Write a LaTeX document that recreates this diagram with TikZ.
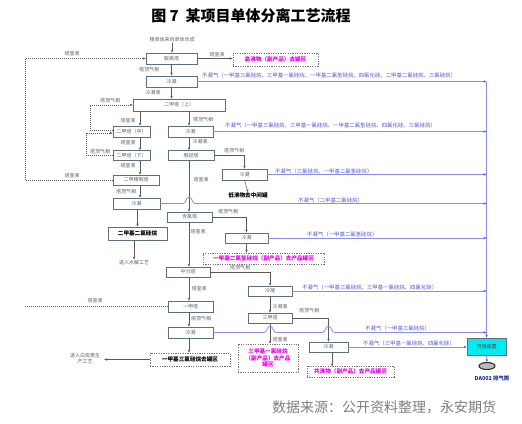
\documentclass[tikz,border=0pt]{standalone}
\usepackage{fontspec}
\setmainfont{Noto Sans CJK SC}
\usetikzlibrary{arrows.meta,shapes.geometric}
\definecolor{boxc}{RGB}{95,110,125}
\definecolor{txt}{RGB}{95,95,95}
\definecolor{blc}{RGB}{140,140,235}
\definecolor{blt}{RGB}{85,85,215}
\definecolor{mag}{RGB}{235,0,235}
\definecolor{cyanf}{RGB}{0,235,240}
\definecolor{srcg}{RGB}{125,125,125}
\definecolor{dab}{RGB}{30,40,150}
\begin{document}
\begin{tikzpicture}[x=1pt,y=-1pt,
  box/.style={draw=boxc,line width=0.7pt,fill=white,inner sep=0pt,font=\fontsize{5}{6}\selectfont,text=txt},
  lab/.style={font=\fontsize{5}{6}\selectfont,text=txt,inner sep=0pt},
  blab/.style={font=\fontsize{5.4}{6}\selectfont,text=blt,inner sep=0pt,anchor=west},
  dbox/.style={draw=gray!90!black,dash pattern=on 1.2pt off 1.2pt,line width=0.6pt,fill=white,inner sep=0pt,font=\fontsize{5.6}{6.8}\selectfont\bfseries},
  conn/.style={draw=gray!70!black,line width=0.5pt},
  arr/.style={-{Stealth[length=3pt,width=2.4pt]}},
  bline/.style={draw=blc,line width=0.8pt,-{Stealth[length=3pt,width=2.4pt,color=blt]}},
  dsh/.style={draw=gray!70!black,line width=0.5pt,dash pattern=on 1pt off 1pt},
]
\useasboundingbox (0,0) rectangle (522,423);

% title
\node[font=\fontsize{15}{16}\selectfont\bfseries,inner sep=0pt] (title) at (251,15.5) {图 7\ \ 某项目单体分离工艺流程};

% collector coordinates
\coordinate (col) at (486.5,0);
\coordinate (L) at (25,0);
\coordinate (L1) at (90,0);
\coordinate (L2) at (86,0);
\coordinate (t1) at (140,0);
\coordinate (t2) at (189,0);
\coordinate (t3) at (270,0);

% boxes
\node[lab] (src) at (172,40) {粗单体来自单体合成};
\node[box,minimum width=51pt,minimum height=11pt] (tgt) at (171.5,58.5) {脱高塔};
\node[dbox,text=mag,minimum width=85pt,minimum height=13pt] (gfw) at (275.5,59.5) {高沸物（副产品）去罐区};
\node[box,minimum width=51pt,minimum height=11pt] (lc1) at (171.5,81.5) {冷凝};
\node[box,minimum width=92pt,minimum height=12pt] (ejs) at (179,105) {二甲塔（上）};
\node[box,minimum width=37pt,minimum height=11pt] (ejz) at (131.5,131.5) {二甲塔（中）};
\node[box,minimum width=37pt,minimum height=10pt] (ejx) at (131.5,155.5) {二甲塔（下）};
\node[box,minimum width=46pt,minimum height=10pt] (ejjz) at (136,180) {二甲精制塔};
\node[box,minimum width=47pt,minimum height=11pt] (lcA) at (136.5,203.5) {冷凝};
\node[box,line width=0.9pt,text=black,font=\fontsize{5.6}{6.8}\selectfont\bfseries,minimum width=59pt,minimum height=13pt] (dm) at (137.5,233.5) {二甲基二氯硅烷};
\node[lab] (shj) at (134,263) {进入水解工艺};

\node[box,minimum width=45pt,minimum height=11pt] (lc2) at (190.5,131.5) {冷凝};
\node[box,minimum width=46pt,minimum height=10pt] (tqt) at (191,155.5) {脱轻塔};
\node[box,minimum width=45pt,minimum height=11pt] (lc3) at (244.5,174.5) {冷凝};
\node[inner sep=0pt,font=\fontsize{5.6}{6.8}\selectfont\bfseries] (dfw) at (248,195) {低沸物去中间罐};
\node[box,minimum width=45pt,minimum height=10pt] (hlt) at (189.5,217) {含氯塔};
\node[box,minimum width=43pt,minimum height=10pt] (lc4) at (246.5,238) {冷凝};
\node[dbox,text=mag,minimum width=121pt,minimum height=11pt] (m1) at (263.5,258.5) {一甲基二氯氢硅烷（副产品）去产品罐区};
\node[box,minimum width=44pt,minimum height=10pt] (zft) at (188,272) {中分塔};
\node[box,minimum width=44pt,minimum height=10pt] (lc5) at (270,291) {冷凝};
\node[box,minimum width=44pt,minimum height=10pt] (sjt) at (270,318) {三甲塔};
\node[box,minimum width=45pt,minimum height=11pt] (yjt) at (190.5,306.5) {一甲塔};
\node[box,minimum width=45pt,minimum height=11pt] (lc6) at (190.5,332.5) {冷凝};
\node[dbox,text=black,minimum width=80pt,minimum height=13pt] (mt) at (190,359.5) {一甲基三氯硅烷去罐区};
\node[lab,align=center] (bth) at (85,358.5) {进入白炭黑生\\产工艺};
\node[dbox,text=mag,align=center,minimum width=60pt,minimum height=28pt] (sj) at (268,358) {三甲基一氯硅烷\\（副产品）去产品\\罐区};
\node[box,minimum width=39pt,minimum height=10pt] (lc7) at (328.5,347) {冷凝};
\node[dbox,text=mag,minimum width=87pt,minimum height=11pt] (gf) at (350.5,371.5) {共沸物（副产品）去产品罐区};
\node[draw=boxc,line width=0.7pt,fill=cyanf,inner sep=0pt,minimum width=39pt,minimum height=17pt,font=\fontsize{5}{6}\selectfont,text=black!75] (fs) at (486.5,346.5) {焚烧装置};
\node[ellipse,draw=black!80,line width=1.1pt,fill=gray!55,minimum width=16pt,minimum height=7pt,inner sep=0pt] (pq) at (487,366) {};
\node[inner sep=0pt,text=dab,font=\fontsize{5.4}{6}\selectfont\bfseries] (da) at (492,378) {DA002 排气筒};

% gray labels
\node[lab] at (217,54.5) {塔釜液};
\node[lab] at (149,70) {塔顶气相};
\node[lab] at (153,93) {冷凝液};
\node[lab] at (110,101) {塔顶气相};
\node[lab] at (128,121) {塔釜液};
\node[lab] at (203,120) {塔顶气相};
\node[lab] at (128,143) {塔釜液};
\node[lab] at (200,142) {冷凝液};
\node[lab] at (100,152) {塔顶气相};
\node[lab] at (128,166) {塔釜液};
\node[lab] at (234,151) {塔顶气相};
\node[lab] at (201,180) {塔釜液};
\node[lab] at (72,175.5) {塔釜液};
\node[lab] at (126,191.5) {塔顶气相};
\node[lab] at (72,53.5) {塔釜液};
\node[lab] at (228,212) {塔顶气相};
\node[lab] at (198,232) {塔釜液};
\node[lab] at (240,267.5) {塔顶气相};
\node[lab] at (199,289) {塔釜液};
\node[lab] at (95,300.5) {塔釜液};
\node[lab] at (280,307) {冷凝液};
\node[lab] at (309,311) {塔顶气相};
\node[lab] at (201,319) {塔顶气相};
\node[lab] at (280,340) {塔釜液};

% blue labels
\node[blab] at (202,75) {不凝气（一甲基三氯硅烷、三甲基一氯硅烷、一甲基二氯氢硅烷、四氯化硅、二甲基二氯硅烷、三氯硅烷）};
\node[blab] at (225,125.5) {不凝气（一甲基三氯硅烷、三甲基一氯硅烷、一甲基二氯氢硅烷、四氯化硅、三氯硅烷）};
\node[blab] at (275,171) {不凝气（三氯硅烷、一甲基二氯氢硅烷）};
\node[blab] at (298,200) {不凝气（二甲基二氯硅烷）};
\node[blab] at (307,234) {不凝气（一甲基二氯氢硅烷）};
\node[blab] at (302,287) {不凝气（一甲基三氯硅烷、三甲基一氯硅烷、四氯化硅）};
\node[blab] at (365,328.5) {不凝气（一甲基三氯硅烷）};
\node[blab] at (363,343) {不凝气（三甲基一氯硅烷、四氯化硅）};

% source
\node[inner sep=0pt,text=srcg,font=\fontsize{14}{15}\selectfont] (source) at (384,407) {数据来源：公开资料整理，永安期货};

% gray connectors
\draw[conn,arr] (src.south) -- (src.south |- tgt.north);
\draw[conn,arr] (tgt.east) -- (tgt.east -| gfw.west);
\draw[conn,arr] (tgt.south) -- (lc1.north);
\draw[conn,arr] (lc1.south) -- (lc1.south |- ejs.north);
\draw[conn,arr] (ejs.south -| t1) -- (ejz.north -| t1);
\draw[conn,arr] (ejz.south -| t1) -- (ejx.north -| t1);
\draw[conn,arr] (ejx.south -| t1) -- (ejjz.north -| t1);
\draw[conn,arr] (ejjz.south -| t1) -- (lcA.north -| t1);
\draw[conn,arr] (lcA.south -| dm.north) -- (dm.north);
\draw[conn,arr] (dm.south -| shj.north) -- ([yshift=1pt]shj.north);

\draw[conn,arr] (ejs.south -| t2) -- (lc2.north -| t2);
\draw[conn,arr] (lc2.south -| t2) -- (tqt.north -| t2);
\draw[conn,arr] (tqt.south -| t2) -- (hlt.north -| t2);
\draw[conn,arr] (hlt.south -| t2) -- (zft.north -| t2);
\draw[conn,arr] (zft.south -| t2) -- (yjt.north -| t2);
\draw[conn,arr] (yjt.south -| t2) -- (lc6.north -| t2);
\draw[conn,arr] (lc6.south -| t2) -- (mt.north -| t2);
\draw[conn,arr] (mt.west) -- ([xshift=4pt]bth.east |- mt.west);

\draw[conn,arr] (tqt.east) -- (tqt.east -| lc3.north) -- (lc3.north);
\draw[conn,arr] (lc3.south) -- (dfw.north);
\draw[conn,arr] (hlt.east) -- (hlt.east -| lc4.north) -- (lc4.north);
\draw[conn,arr] (lc4.south) -- (lc4.south |- m1.north);
\draw[conn,arr] (zft.east) -- (zft.east -| lc5.north) -- (lc5.north);
\draw[conn,arr] (lc5.south) -- (sjt.north);
\draw[conn,arr] (sjt.south -| t3) -- (sj.north -| t3);
\draw[conn,arr] (sjt.east) -- (sjt.east -| lc7.north) -- (lc7.north);
\draw[conn,arr] (lc7.south -| gf.north) ++(-18.5,0) -- ++(0,14);

% dashed recycle lines
\draw[dsh,arr] (ejjz.west) -- (ejjz.west -| L) -- (tgt.west -| L) -- (tgt.west);
\draw[dsh] (yjt.west) -- (yjt.west -| L);
\draw[dsh,arr] ([yshift=1.5pt]ejz.west) -- ([yshift=1.5pt]ejz.west -| L1) -- (ejs.west -| L1) -- (ejs.west);
\draw[dsh,arr] (ejx.west) -- (ejx.west -| L2) -- ([yshift=-1.5pt]ejz.west -| L2) -- ([yshift=-1.5pt]ejz.west);

% blue vent lines
\draw[bline] (lc1.east) -- (lc1.east -| col);
\draw[bline] (lc2.east) -- (lc2.east -| col);
\draw[bline] (lc3.east) -- (lc3.east -| col);
\draw[bline] (lcA.east) -- (183,203.5) .. controls (186,203.5) and (186,197) .. (189,197) .. controls (192,197) and (192,203.5) .. (195,203.5) -- (lcA.east -| col);
\draw[bline] (lc4.east) -- (lc4.east -| col);
\draw[bline] (lc5.east) -- (lc5.east -| col);
\draw[bline] (lc6.east) -- (264,332.5) .. controls (267,332.5) and (267,326) .. (270,326) .. controls (273,326) and (273,332.5) .. (276,332.5)
  -- (322.5,332.5) .. controls (325.5,332.5) and (325.5,326) .. (328.5,326) .. controls (331.5,326) and (331.5,332.5) .. (334.5,332.5) -- (lc6.east -| col);
\draw[bline] (lc7.east) -- (lc7.east -| fs.west);
\draw[bline] (lc1.east -| col) -- (fs.north);
\draw[bline] (fs.south) -- (pq.north);
\end{tikzpicture}
\end{document}
